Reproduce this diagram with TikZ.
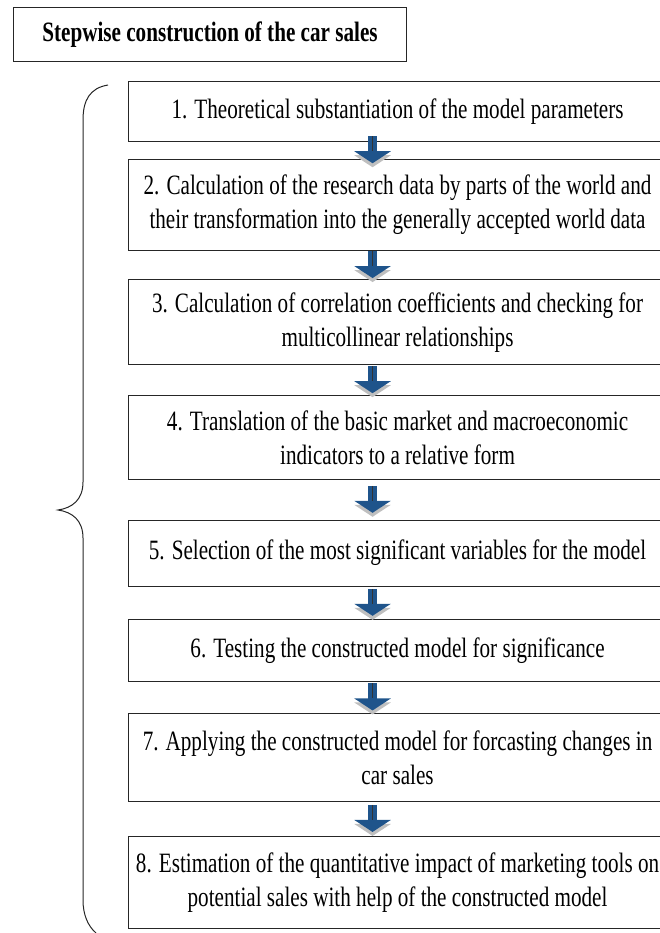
\documentclass[tikz,border=0pt]{standalone}
\usepackage{fontspec}
\setmainfont{Liberation Serif}[FakeStretch=0.755]
\usetikzlibrary{arrows.meta,calc}
\tikzset{>={Triangle[width=36pt,length=12pt]}}
\definecolor{stepblue}{RGB}{31,84,139}
\tikzset{
  stepbox/.style={draw=black!85, line width=1.1pt, anchor=north west,
    minimum width=538pt, align=center, inner sep=0pt,
    font=\fontsize{28}{34}\selectfont},
  steparrow/.style={->, draw=stepblue, line width=9pt,
    preaction={draw=black!25, transform canvas={yshift=-4pt}},
    postaction={draw=black!80, line width=.8pt, -, shorten >=12pt}},
}

\begin{document}
\begin{tikzpicture}[x=1pt, y=-1pt]
  \useasboundingbox (0,0) rectangle (659,933);

  %% title
  \node[draw=black!85, line width=1pt, anchor=north west, minimum width=393pt,
    minimum height=54pt, inner sep=0pt, font=\bfseries\fontsize{28}{34}\selectfont]
    (title) at (13,7) {Stepwise construction of the car sales};

  %% steps
  \node[stepbox, minimum height=60pt] (s1) at (128,80.7)
    {1. Theoretical substantiation of the model parameters};
  \node[stepbox, minimum height=91pt] (s2) at (128,158.7)
    {2. Calculation of the research data by parts of the world and\\their transformation into the generally accepted world data};
  \node[stepbox, minimum height=85pt] (s3) at (128,279.3)
    {3. Calculation of correlation coefficients and checking for\\multicollinear relationships};
  \node[stepbox, minimum height=84pt] (s4) at (128,395)
    {4. Translation of the basic market and macroeconomic\\indicators to a relative form};
  \node[stepbox, minimum height=66pt] (s5) at (128,519.5)
    {5. Selection of the most significant variables for the model};
  \node[stepbox, minimum height=62pt] (s6) at (128,619)
    {6. Testing the constructed model for significance};
  \node[stepbox, minimum height=88pt] (s7) at (128,712.8)
    {7. Applying the constructed model for forcasting changes in\\car sales};
  \node[stepbox, minimum height=92pt] (s8) at (128,836)
    {8. Estimation of the quantitative impact of marketing tools on\\potential sales with help of the constructed model};

  %% arrows between the steps
  \foreach \a/\b in {s1/s2, s2/s3, s3/s4, s4/s5, s5/s6, s6/s7, s7/s8}
    \draw[steparrow] ($(\a.south)!.5!(\b.north) + (-25,-14)$) -- ++(0,27);

  %% brace
  \draw[line width=1pt, black!85] (108,85) .. controls (90,88) and (83,100) .. (83,120)
    -- (83,482) .. controls (83,500) and (72,508) .. (58,510)
    .. controls (72,512) and (83,520) .. (83,538)
    -- (83,900) .. controls (83,915) and (88,926) .. (96,933);

\end{tikzpicture}
\end{document}
